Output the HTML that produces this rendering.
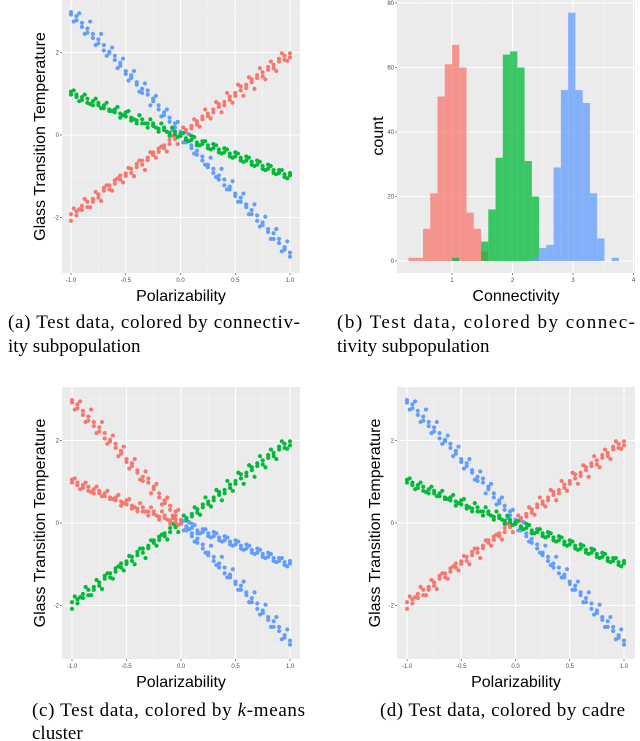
<!DOCTYPE html>
<html><head><meta charset="utf-8"><style>
html,body{margin:0;padding:0;background:#fff;}
svg{display:block;}
.tick{font-family:"Liberation Sans",sans-serif;font-size:6px;fill:#4d4d4d;}
.atitle{font-family:"Liberation Sans",sans-serif;font-size:16px;fill:#000;}
.cap{font-family:"Liberation Serif",serif;font-size:19px;fill:#000;}
</style></head><body>
<svg id="fig" width="640" height="741" viewBox="0 0 640 741" xmlns="http://www.w3.org/2000/svg">
<text class="cap" x="8" y="328" textLength="292">(a) Test data, colored by connectiv-</text>
<text class="cap" x="8" y="352">ity subpopulation</text>
<text class="cap" x="337" y="328" textLength="298">(b) Test data, colored by connec-</text>
<text class="cap" x="337" y="352">tivity subpopulation</text>
<text class="cap" x="32" y="716" textLength="273">(c) Test data, colored by <tspan font-style="italic">k</tspan>-means</text>
<text class="cap" x="32" y="739">cluster</text>
<text class="cap" x="380" y="716" textLength="245">(d) Test data, colored by cadre</text>
</svg>
<script>
// ---- scatter data (x grids and estimated y samples per line) ----
const xs = [-1,-0.95,-0.9,-0.85,-0.8,-0.75,-0.7,-0.65,-0.6,-0.55,-0.5,-0.45,-0.4,-0.35,-0.3,-0.25,-0.2,-0.15,-0.1,-0.05,0,0.05,0.1,0.15,0.2,0.25,0.3,0.35,0.4,0.45,0.5,0.55,0.6,0.65,0.7,0.75,0.8,0.85,0.9,0.95,1];
const xsMid = [-0.975,-0.925,-0.875,-0.825,-0.775,-0.725,-0.675,-0.625,-0.575,-0.525,-0.475,-0.425,-0.375,-0.325,-0.275,-0.225,-0.175,-0.125,-0.075,-0.025,0.025,0.075,0.125,0.175,0.225,0.275,0.325,0.375,0.425,0.475,0.525,0.575,0.625,0.675,0.725,0.775,0.825,0.875,0.925,0.975];
const riseA = [-1.92,-1.85,-1.72,-1.62,-1.55,-1.44,-1.28,-1.22,-1.10,-0.98,-0.93,-0.82,-0.70,-0.62,-0.55,-0.42,-0.33,-0.25,-0.12,-0.03,0.05,0.12,0.22,0.33,0.38,0.52,0.62,0.68,0.80,0.93,1.02,1.08,1.22,1.28,1.38,1.52,1.58,1.70,1.78,1.92,1.88];
const riseB = [-2.08,-1.95,-1.82,-1.75,-1.62,-1.52,-1.35,-1.32,-1.18,-1.08,-0.99,-0.92,-0.78,-0.72,-0.61,-0.48,-0.41,-0.32,-0.22,-0.10,0.02,0.06,0.16,0.25,0.45,0.46,0.55,0.75,0.72,0.85,0.95,1.18,1.14,1.35,1.45,1.42,1.65,1.62,1.85,1.82,1.98];
const riseC = [-1.78,-1.80,-1.55,-1.75,-1.38,-1.60,-1.22,-1.35,-1.05,-1.15,-0.80,-1.00,-0.62,-0.85,-0.42,-0.55,-0.28,-0.40,-0.02,-0.22,0.18,0.02,0.38,0.20,0.62,0.40,0.80,0.55,1.02,0.78,1.22,0.95,1.40,1.12,1.62,1.35,1.78,1.55,1.98,1.80];
const steepA = [2.92,2.78,2.62,2.48,2.35,2.22,2.05,1.98,1.82,1.68,1.55,1.38,1.28,1.12,0.98,0.82,0.72,0.55,0.42,0.28,0.08,-0.08,-0.25,-0.38,-0.52,-0.72,-0.82,-0.98,-1.08,-1.25,-1.42,-1.52,-1.68,-1.82,-1.95,-2.12,-2.28,-2.38,-2.52,-2.72,-2.85];
const steepB = [2.98,2.88,2.72,2.58,2.45,2.32,2.18,2.02,1.92,1.75,1.48,1.45,1.22,1.02,1.08,0.88,0.62,0.48,0.32,0.18,-0.02,-0.18,-0.32,-0.48,-0.62,-0.78,-0.92,-1.08,-1.22,-1.32,-1.48,-1.62,-1.75,-1.92,-2.08,-2.18,-2.35,-2.52,-2.62,-2.78,-2.95];
const steepC = [2.75,2.95,2.45,2.75,2.18,2.45,1.92,2.12,1.62,1.85,1.32,1.55,1.05,1.25,0.72,0.95,0.45,0.62,0.12,0.32,-0.18,0.02,-0.45,-0.25,-0.72,-0.55,-1.02,-0.82,-1.32,-1.12,-1.62,-1.42,-1.92,-1.68,-2.22,-1.98,-2.52,-2.28,-2.82,-2.58];
const flatA = [1.05,0.98,0.92,0.88,0.82,0.72,0.72,0.62,0.55,0.52,0.45,0.42,0.35,0.28,0.28,0.22,0.15,0.12,0.05,0.02,-0.02,-0.08,-0.12,-0.18,-0.22,-0.25,-0.32,-0.35,-0.42,-0.45,-0.52,-0.55,-0.62,-0.65,-0.72,-0.75,-0.82,-0.85,-0.92,-0.95,-0.98];
const flatB = [0.98,0.92,0.85,0.78,0.72,0.78,0.65,0.58,0.62,0.42,0.55,0.35,0.28,0.38,0.18,0.28,0.08,0.18,-0.02,0.08,0.02,-0.12,-0.02,-0.25,-0.15,-0.32,-0.22,-0.42,-0.32,-0.52,-0.42,-0.62,-0.52,-0.72,-0.62,-0.82,-0.72,-0.92,-0.85,-1.02,-0.92];
const flatC = [1.08,0.82,0.98,0.75,0.88,0.65,0.78,0.58,0.68,0.48,0.58,0.38,0.48,0.28,0.38,0.18,0.28,0.08,0.18,-0.05,0.05,-0.15,-0.05,-0.25,-0.15,-0.35,-0.25,-0.45,-0.35,-0.55,-0.45,-0.65,-0.55,-0.75,-0.65,-0.85,-0.75,-0.95,-0.85,-1.05];
const xTickLabels = ["-1.0","-0.5","0.0","0.5","1.0"];
const xTickVals = [-1,-0.5,0,0.5,1];
const yTickVals = [-2,0,2];
const yTickLabels = ["-2","0","2"];
// ---- histogram data ----
const binStart = 0.28;
const binWidth = 0.12;
const redCounts = [1,1,10,21,51,61,67,60,15,10,3];
const greenCounts = [0,0,0,0,0,0,1,0,0,0,6,16,32,64,65,60,31,20];
const blueCounts = [0,0,0,0,0,0,0,0,0,0,0,0,0,0,0,0,0,1,4,5,29,53,77,53,49,21,7,0,1];
const histXTicks = [1,2,3,4];
const histYTicks = [0,20,40,60,80];

const NS="http://www.w3.org/2000/svg";
const svg=document.getElementById('fig');
function el(tag,attrs,parent){const e=document.createElementNS(NS,tag);for(const k in attrs)e.setAttribute(k,attrs[k]);(parent||svg).appendChild(e);return e;}
const RED="#F8766D",GREEN="#00BA38",BLUE="#619CFF";

function scatterPanel(P,name,colorFn){
  const g=el('g',{});
  
  
  const sx=v=>P.x0+(v+1)/2*(P.x1-P.x0);
  const sy=v=>P.yz-v*P.ppu;
  const bg=el('rect',{x:P.L,y:P.T,width:P.R-P.L,height:P.B-P.T,fill:"#ebebeb"},g);
  
  
  [-0.75,-0.25,0.25,0.75].forEach(v=>{el('line',{x1:sx(v),x2:sx(v),y1:P.T,y2:P.B,stroke:"#f5f5f5","stroke-width":0.6},g);});
  [-3,-1,1,3].forEach(v=>{const y=sy(v);if(y>P.T&&y<P.B)el('line',{x1:P.L,x2:P.R,y1:y,y2:y,stroke:"#f5f5f5","stroke-width":0.6},g);});
  xTickVals.forEach(v=>{el('line',{x1:sx(v),x2:sx(v),y1:P.T,y2:P.B,stroke:"#fff","stroke-width":1.1},g);});
  yTickVals.forEach(v=>{el('line',{x1:P.L,x2:P.R,y1:sy(v),y2:sy(v),stroke:"#fff","stroke-width":1.1},g);});
  const pts=el('g',{},g);
  
  
  const lines=[["rise",xs,riseA],["rise",xs,riseB],["rise",xsMid,riseC],["steep",xs,steepA],["steep",xs,steepB],["steep",xsMid,steepC],["flat",xs,flatA],["flat",xs,flatB],["flat",xsMid,flatC]];
  lines.forEach(([kind,xarr,arr])=>{
    arr.forEach((y,i)=>{
      const c=el('circle',{cx:sx(xarr[i]),cy:sy(y),r:2.1,fill:colorFn(kind,xarr[i])},pts);
      
      
    });
  });
  xTickVals.forEach((v,i)=>{
    el('line',{x1:sx(v),x2:sx(v),y1:P.B,y2:P.B+2,stroke:"#333","stroke-width":0.6},g);
    const t=el('text',{class:'tick',x:sx(v),y:P.B+9,'text-anchor':'middle'},g);t.textContent=xTickLabels[i];
    
    
  });
  yTickVals.forEach((v,i)=>{
    el('line',{x1:P.L-2,x2:P.L,y1:sy(v),y2:sy(v),stroke:"#333","stroke-width":0.6},g);
    const t=el('text',{class:'tick',x:P.L-3,y:sy(v)+2,'text-anchor':'end'},g);t.textContent=yTickLabels[i];
    
    
  });
  const xt=el('text',{class:'atitle',x:(P.L+P.R)/2,y:P.B+28,'text-anchor':'middle'},g);xt.textContent="Polarizability";
  
  
  const cy=(P.T+P.B)/2;
  const yt=el('text',{class:'atitle',x:P.L-17,y:cy,'text-anchor':'middle',transform:`rotate(-90 ${P.L-17} ${cy})`},g);yt.textContent="Glass Transition Temperature";
  
  
}
const subpop=(k)=>k==="rise"?RED:(k==="steep"?BLUE:GREEN);
scatterPanel({L:62,R:300,T:0,B:273,x0:71,x1:290,yz:135,ppu:41.25},'panel-a-scatter',subpop);
scatterPanel({L:62,R:300,T:387,B:659,x0:72,x1:290,yz:523,ppu:41.25},'panel-c-scatter',(k,x)=>k==="rise"?GREEN:(x<=0?RED:BLUE));
scatterPanel({L:397,R:635,T:387,B:659,x0:407,x1:624,yz:523,ppu:41.25},'panel-d-scatter',subpop);

// histogram panel b
(function(){
  const P={L:397,R:635,T:0,B:273};
  const g=el('g',{});
  
  
  const sx=v=>452+(v-1)*60.5;
  const sy=c=>261-c*3.225;
  const bg=el('rect',{x:P.L,y:P.T,width:P.R-P.L,height:P.B-P.T,fill:"#ebebeb"},g);
  
  
  [0.5,1.5,2.5,3.5].forEach(v=>el('line',{x1:sx(v),x2:sx(v),y1:P.T,y2:P.B,stroke:"#f5f5f5","stroke-width":0.6},g));
  [10,30,50,70].forEach(v=>el('line',{x1:P.L,x2:P.R,y1:sy(v),y2:sy(v),stroke:"#f5f5f5","stroke-width":0.6},g));
  histXTicks.forEach(v=>el('line',{x1:sx(v),x2:sx(v),y1:P.T,y2:P.B,stroke:"#fff","stroke-width":1.1},g));
  histYTicks.forEach(v=>el('line',{x1:P.L,x2:P.R,y1:sy(v),y2:sy(v),stroke:"#fff","stroke-width":1.1},g));
  [[redCounts,RED,'red'],[greenCounts,GREEN,'green'],[blueCounts,BLUE,'blue']].forEach(([arr,col,nm])=>{
    arr.forEach((c,i)=>{
      if(!c)return;
      const x0=sx(binStart+i*binWidth),x1=sx(binStart+(i+1)*binWidth);
      const r=el('rect',{x:x0,y:sy(c),width:x1-x0,height:sy(0)-sy(c),fill:col,'fill-opacity':0.75},g);
      
      
    });
  });
  histXTicks.forEach(v=>{
    el('line',{x1:sx(v),x2:sx(v),y1:P.B,y2:P.B+2,stroke:"#333","stroke-width":0.6},g);
    const t=el('text',{class:'tick',x:sx(v),y:P.B+9,'text-anchor':'middle'},g);t.textContent=String(v);
    
    
  });
  histYTicks.forEach(v=>{
    el('line',{x1:P.L-2,x2:P.L,y1:sy(v),y2:sy(v),stroke:"#333","stroke-width":0.6},g);
    const t=el('text',{class:'tick',x:P.L-3,y:sy(v)+2,'text-anchor':'end'},g);t.textContent=String(v);
    
    
  });
  const xt=el('text',{class:'atitle',x:516,y:301,'text-anchor':'middle'},g);xt.textContent="Connectivity";
  
  
  const yt=el('text',{class:'atitle',x:383,y:136,'text-anchor':'middle',transform:'rotate(-90 383 136)'},g);yt.textContent="count";
  
  
})();
</script>
</body></html>
